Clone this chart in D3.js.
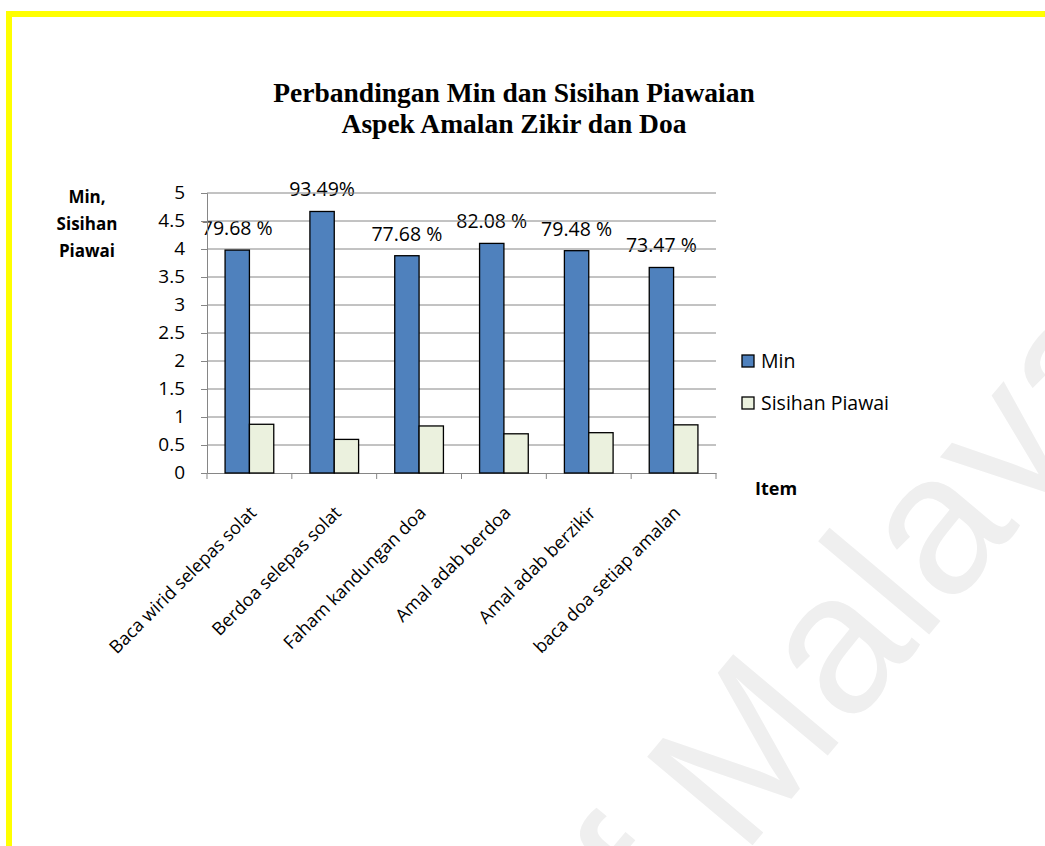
<!DOCTYPE html>
<html>
<head>
<meta charset="utf-8">
<script src="https://cdn.jsdelivr.net/npm/d3@7"></script>
<style>
  body { margin: 0; background: #fff; }
  svg { display: block; }
</style>
</head>
<body>
<div id="chart"></div>
<script>
// --------------------------------------
//  Data
// --------------------------------------

const categories = [
  "Baca wirid selepas solat",
  "Berdoa selepas solat",
  "Faham kandungan doa",
  "Amal adab berdoa",
  "Amal adab berzikir",
  "baca doa setiap amalan"
];
const minValues = [3.98, 4.67, 3.88, 4.10, 3.97, 3.67];
const sdValues = [0.87, 0.60, 0.84, 0.70, 0.72, 0.86];
const pctLabels = ["79.68 %", "93.49%", "77.68 %", "82.08 %", "79.48 %", "73.47 %"];
const seriesNames = ["Min", "Sisihan Piawai"];
const yTicks = [0, 0.5, 1, 1.5, 2, 2.5, 3, 3.5, 4, 4.5, 5];

// --------------------------------------
//  Margin and canvas
// --------------------------------------

const width = 1045;
const height = 846;
const margin = {top: 193, right: 329, bottom: 373, left: 207};
const innerWidth = width - margin.left - margin.right;
const innerHeight = height - margin.top - margin.bottom;

const colors = {"Min": "#4F81BD", "Sisihan Piawai": "#EBF1DE"};
const gridColor = "#868686";
const font = "'Open Sans', sans-serif";

const svg = d3.select("#chart")
  .append("svg")
    .attr("width", width)
    .attr("height", height)
    .attr("viewBox", `0 0 ${width} ${height}`);

// Watermark (page background, runs off the page)
svg.append("text")
  .attr("transform", "translate(599, 1028) rotate(-50)")
  .attr("font-family", "'Liberation Sans', Arial, sans-serif")
  .attr("font-size", 200)
  .attr("fill", "#efefef")
  .text("of Malaya");

// Yellow page frame
svg.append("rect")
  .attr("x", 6).attr("y", 11)
  .attr("width", width - 6).attr("height", 6)
  .attr("fill", "#FFFF00");
svg.append("rect")
  .attr("x", 6).attr("y", 11)
  .attr("width", 6).attr("height", height - 11)
  .attr("fill", "#FFFF00");

// Title
const title = svg.append("text")
  .attr("text-anchor", "middle")
  .attr("font-family", "'Liberation Serif', 'Times New Roman', serif")
  .attr("font-weight", "bold")
  .attr("font-size", 27.5);
title.append("tspan").attr("x", 514).attr("y", 102).text("Perbandingan Min dan Sisihan Piawaian");
title.append("tspan").attr("x", 514).attr("y", 133).text("Aspek Amalan Zikir dan Doa");

// texts go in a layer without transform
const labelLayer = svg.append("g");

// --------------------------------------
//  Scales
// --------------------------------------

const x = d3.scaleBand()
  .domain(categories)
  .range([margin.left, margin.left + innerWidth])
  .padding(0);

const barW = x.bandwidth() * 0.287;

const xSub = d3.scaleBand()
  .domain(seriesNames)
  .range([-barW, barW]);

const y = d3.scaleLinear()
  .domain([0, 5])
  .range([margin.top + innerHeight, margin.top]);

// --------------------------------------
//  Grid and axes
// --------------------------------------

svg.append("g")
  .selectAll("line")
  .data(yTicks.filter(d => d > 0))
  .join("line")
    .attr("x1", margin.left)
    .attr("x2", margin.left + innerWidth)
    .attr("y1", d => y(d))
    .attr("y2", d => y(d))
    .attr("stroke", gridColor)
    .attr("stroke-width", 1);

svg.append("g")
  .attr("transform", `translate(${margin.left}, 0)`)
  .call(d3.axisLeft(y)
    .tickValues(yTicks)
    .tickFormat("")
    .tickSize(6));

labelLayer.append("g")
  .selectAll("text")
  .data(yTicks)
  .join("text")
    .attr("x", margin.left - 22)
    .attr("y", d => y(d))
    .attr("dy", "0.34em")
    .attr("text-anchor", "end")
    .attr("font-family", font)
    .attr("font-size", 19)
    .text(d3.format("~g"));

const xAxis = svg.append("g")
  .attr("transform", `translate(0, ${margin.top + innerHeight})`)
  .call(d3.axisBottom(x).tickSize(0).tickFormat(""));
xAxis.selectAll(".tick").remove();
xAxis.append("g")
  .selectAll("line")
  .data(d3.range(categories.length + 1))
  .join("line")
    .attr("x1", i => margin.left + i * x.step())
    .attr("x2", i => margin.left + i * x.step())
    .attr("y1", 0)
    .attr("y2", 6)
    .attr("stroke", gridColor);

svg.selectAll(".domain, .tick line").attr("stroke", gridColor);

// --------------------------------------
//  Bars
// --------------------------------------

const rows = categories.map((c, i) => ({category: c, "Min": minValues[i], "Sisihan Piawai": sdValues[i]}));

svg.append("g")
  .selectAll("g")
  .data(rows)
  .join("g")
    .attr("transform", d => `translate(${x(d.category) + x.bandwidth() / 2}, 0)`)
  .selectAll("rect")
  .data(d => seriesNames.map(s => ({series: s, value: d[s]})))
  .join("rect")
    .attr("x", d => xSub(d.series))
    .attr("y", d => y(d.value))
    .attr("width", xSub.bandwidth())
    .attr("height", d => y(0) - y(d.value))
    .attr("fill", d => colors[d.series])
    .attr("stroke", "#000")
    .attr("stroke-width", 1.3);

// Percentage labels above Min bars
labelLayer.append("g")
  .selectAll("text")
  .data(rows)
  .join("text")
    .attr("x", d => x(d.category) + x.bandwidth() / 2 + xSub("Min") + xSub.bandwidth() / 2)
    .attr("y", d => y(d["Min"]) - 15)
    .attr("text-anchor", "middle")
    .attr("font-family", font)
    .attr("font-size", 19.5)
    .text((d, i) => pctLabels[i]);

// Category labels
labelLayer.append("g")
  .selectAll("text")
  .data(categories)
  .join("text")
    .attr("transform", d => `translate(${x(d) + x.bandwidth() / 2 + 8}, ${y(0) + 41}) rotate(-45)`)
    .attr("text-anchor", "end")
    .attr("font-family", font)
    .attr("font-size", 18)
    .text(d => d);

// --------------------------------------
//  Axis titles
// --------------------------------------

const yTitle = labelLayer.append("text")
  .attr("text-anchor", "middle")
  .attr("font-family", font)
  .attr("font-weight", "bold")
  .attr("font-size", 17);
["Min,", "Sisihan", "Piawai"].forEach((t, i) => {
  yTitle.append("tspan").attr("x", 87).attr("y", 203 + i * 27).text(t);
});

labelLayer.append("text")
  .attr("x", 755)
  .attr("y", 495)
  .attr("font-family", font)
  .attr("font-weight", "bold")
  .attr("font-size", 18)
  .text("Item");

// --------------------------------------
//  Legend
// --------------------------------------

const legend = labelLayer.append("g")
  .selectAll("g")
  .data(seriesNames)
  .join("g")
    .attr("transform", (d, i) => `translate(742, ${355 + i * 42})`);

legend.append("rect")
  .attr("width", 12)
  .attr("height", 12)
  .attr("fill", d => colors[d])
  .attr("stroke", "#000")
  .attr("stroke-width", 1.3);

legend.append("text")
  .attr("x", 19)
  .attr("y", 12.5)
  .attr("font-family", font)
  .attr("font-size", 19.5)
  .text(d => d);
</script>
</body>
</html>
